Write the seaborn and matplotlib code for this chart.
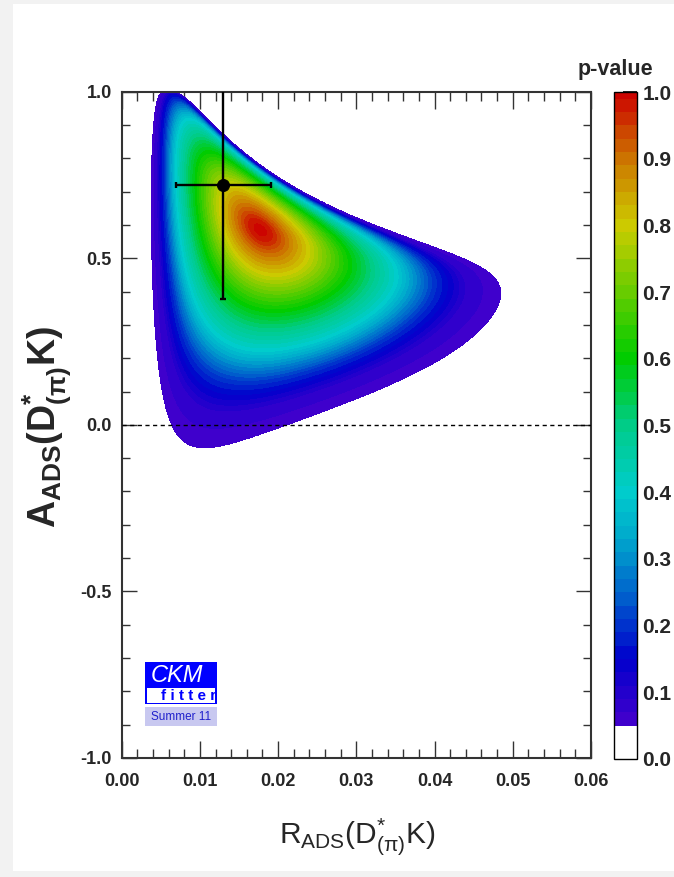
import numpy as np
import matplotlib
matplotlib.use("Agg")
import matplotlib.pyplot as plt
import seaborn as sns
from matplotlib.colors import ListedColormap, BoundaryNorm, LinearSegmentedColormap
from matplotlib.cm import ScalarMappable
from matplotlib.patches import Rectangle
from matplotlib.ticker import MultipleLocator, FormatStrFormatter

# measured point with errors (read from the cross)
R_meas = [0.0130]
R_err = [0.0061]
A_meas = [0.719]
A_err = [0.340]

# best fit of the prediction (red spot) and the fit model parameters
R_peak = 0.0177
A_peak = 0.585
R_D = 0.058
GAMMA0 = 68.0
SIG_GAMMA = 7.0
SIG_U = 0.047   # spread along (1,-1) in (rB cos d, rB sin d)
SIG_V = 0.037   # spread along (1, 1)

# p-value against distance from the best fit (1 = edge of the coloured area),
# read from the spacing of the colour bands
T_PTS = [0.0, 0.05, 0.10, 0.25, 0.44, 0.63, 0.77, 0.88, 1.00, 1.30]
P_PTS = [1.0, 0.985, 0.94, 0.80, 0.60, 0.40, 0.20, 0.09, 0.05, 0.0]

# palette anchors of the p-value scale
cmap_pos = [0.05, 0.15, 0.25, 0.33, 0.40, 0.50, 0.60, 0.70, 0.80, 0.90, 1.00]
cmap_colors = ['#4400cc', '#0000cc', '#0066cc', '#00a8cc', '#00cccc', '#00cc88',
               '#00cc00', '#66cc00', '#cccc00', '#cc7700', '#cc0000']
cbar_ticks = [0.0, 0.1, 0.2, 0.3, 0.4, 0.5, 0.6, 0.7, 0.8, 0.9, 1.0]

sns.set_theme(style="ticks")
plt.rcParams['font.family'] = ['Liberation Sans', 'DejaVu Sans']
plt.rcParams['mathtext.fontset'] = 'custom'
plt.rcParams['mathtext.rm'] = 'Liberation Sans'
plt.rcParams['mathtext.it'] = 'Liberation Sans:italic'
plt.rcParams['mathtext.bf'] = 'Liberation Sans:bold'

W, H = 674, 877


def fx(x):
    return x / W


def fy(y):
    return 1 - y / H


def pvalue(R, A):
    """profile chi2 over gamma of a fit in (rB cos d, rB sin d)"""
    g0 = np.deg2rad(GAMMA0)
    k0, h0 = R_D * np.sin(g0), R_D * np.cos(g0)
    s0 = A_peak * R_peak / (2 * k0)
    c0 = -h0 + np.sqrt(R_peak - s0**2 - k0**2)
    best = np.full(R.shape, np.inf)
    for gd in np.linspace(46, 90, 45):
        gam = np.deg2rad(gd)
        k, h = R_D * np.sin(gam), R_D * np.cos(gam)
        s = A * R / (2 * k)
        D = R - s**2 - k**2
        ok = D >= 0
        root = np.sqrt(np.where(ok, D, 0))
        prior = ((gd - GAMMA0) / SIG_GAMMA) ** 2
        for c in (-h + root, -h - root):
            du = ((c - c0) - (s - s0)) / np.sqrt(2)
            dv = ((c - c0) + (s - s0)) / np.sqrt(2)
            chi2 = (du / SIG_U) ** 2 + (dv / SIG_V) ** 2 + prior
            best = np.minimum(best, np.where(ok, chi2, np.inf))
    t = np.sqrt(np.minimum(best, 100.0)) / 2.448
    return np.interp(t, T_PTS, P_PTS)


r = np.linspace(0, 0.06, 700)
a = np.linspace(-1, 1, 900)
Rg, Ag = np.meshgrid(r, a)
P = pvalue(Rg, Ag)

bounds = [0.0] + list(np.round(np.arange(0.05, 0.995, 0.02), 2)) + [1.0]
base = LinearSegmentedColormap.from_list(
    'ckm', [((p - 0.05) / 0.95, c) for p, c in zip(cmap_pos, cmap_colors)])
mids = [(lo + hi) / 2 for lo, hi in zip(bounds[1:-1], bounds[2:])]
band_colors = [base((m - 0.05) / 0.95) for m in mids]

fig = plt.figure(figsize=(W / 100, H / 100), dpi=100, facecolor='#f2f2f2')
fig.patches.append(Rectangle((fx(12.7), fy(871)), 1 - fx(12.7), fy(4) - fy(871),
                             transform=fig.transFigure, facecolor='white',
                             edgecolor='none', zorder=-5))

ax = fig.add_axes([fx(121.7), fy(758), fx(591) - fx(121.7), fy(91.7) - fy(758)])
ax.set_facecolor('white')
cs = ax.contourf(Rg, Ag, P, levels=bounds[1:], colors=band_colors)
cs.set_edgecolor('face')
cs.set_linewidth(0.6)
ax.axhline(0, color='black', lw=1.0, ls=(0, (3, 2.5)), zorder=4)
ax.errorbar(R_meas, A_meas, xerr=R_err, yerr=A_err, fmt='none', ecolor='black',
            elinewidth=1.7, capsize=2.5, capthick=1.7, zorder=5)
sns.scatterplot(x=R_meas, y=A_meas, ax=ax, color='black', s=75, marker='o',
                edgecolor='black', zorder=6, legend=False)

ax.set_xlim(0, 0.06)
ax.set_ylim(-1, 1)
ax.xaxis.set_major_locator(MultipleLocator(0.01))
ax.xaxis.set_minor_locator(MultipleLocator(0.002))
ax.yaxis.set_major_locator(MultipleLocator(0.5))
ax.yaxis.set_minor_locator(MultipleLocator(0.1))
ax.xaxis.set_major_formatter(FormatStrFormatter('%.2f'))
ax.yaxis.set_major_formatter(FormatStrFormatter('%.1f'))
ax.tick_params(which='both', direction='in', top=True, right=True, color='#333333', width=1)
ax.tick_params(axis='x', which='major', length=12.5, pad=11)
ax.tick_params(axis='x', which='minor', length=6.2)
ax.tick_params(axis='y', which='major', length=11, pad=7)
ax.tick_params(axis='y', which='minor', length=5.5)
for lab in ax.get_xticklabels() + ax.get_yticklabels():
    lab.set_fontsize(13)
    lab.set_fontweight('bold')
for sp in ax.spines.values():
    sp.set_color('#333333')
    sp.set_linewidth(1.5)
ax.set_xlabel('')
ax.set_ylabel('')

fig.text(fx(357), fy(843), r'$\mathrm{R_{ADS}(D^{*}_{(\pi)}K)}$', fontsize=21.5,
         ha='center', va='baseline')
fig.text(fx(47), fy(427), r'$\mathbf{A_{ADS}(D^{*}_{(\pi)}K)}$', fontsize=27,
         rotation=90, ha='center', va='center')

# colour scale
cax = fig.add_axes([fx(614), fy(759), fx(637) - fx(614), fy(92) - fy(759)])
sm = ScalarMappable(norm=BoundaryNorm(bounds, len(bounds) - 1),
                    cmap=ListedColormap(['white'] + band_colors))
cb = fig.colorbar(sm, cax=cax, spacing='proportional', ticks=cbar_ticks)
cb.outline.set_edgecolor('black')
cb.outline.set_linewidth(1)
cax.yaxis.set_major_formatter(FormatStrFormatter('%.1f'))
cax.tick_params(direction='in', length=10, width=1.2, color='black', pad=4)
cax.minorticks_off()
for lab in cax.get_yticklabels():
    lab.set_fontsize(15)
    lab.set_fontweight('bold')
fig.text(fx(615), fy(69), 'p-value', fontsize=15.5, fontweight='bold',
         ha='center', va='center')

# CKMfitter logo
fig.patches.append(Rectangle((fx(145), fy(704.3)), fx(216.7) - fx(145), fy(662.3) - fy(704.3),
                             transform=fig.transFigure, facecolor='#0000ff', edgecolor='none', zorder=3))
fig.patches.append(Rectangle((fx(146.7), fy(702.5)), fx(214.5) - fx(146.7), fy(688) - fy(702.5),
                             transform=fig.transFigure, facecolor='white', edgecolor='none', zorder=3))
fig.patches.append(Rectangle((fx(145), fy(726)), fx(217) - fx(145), fy(707) - fy(726),
                             transform=fig.transFigure, facecolor='#c8c8f0', edgecolor='none', zorder=3))
fig.text(fx(177), fy(675.5), 'CKM', color='white', fontsize=17, style='italic',
         ha='center', va='center', zorder=4)
fig.text(fx(189), fy(695.5), 'f i t t e r', color='#0000ff', fontsize=11,
         fontweight='bold', ha='center', va='center', zorder=4)
fig.text(fx(181), fy(717), 'Summer 11', color='#2020cc', fontsize=8.5,
         ha='center', va='center', zorder=4)

fig.savefig('out.png', dpi=100, facecolor=fig.get_facecolor())
